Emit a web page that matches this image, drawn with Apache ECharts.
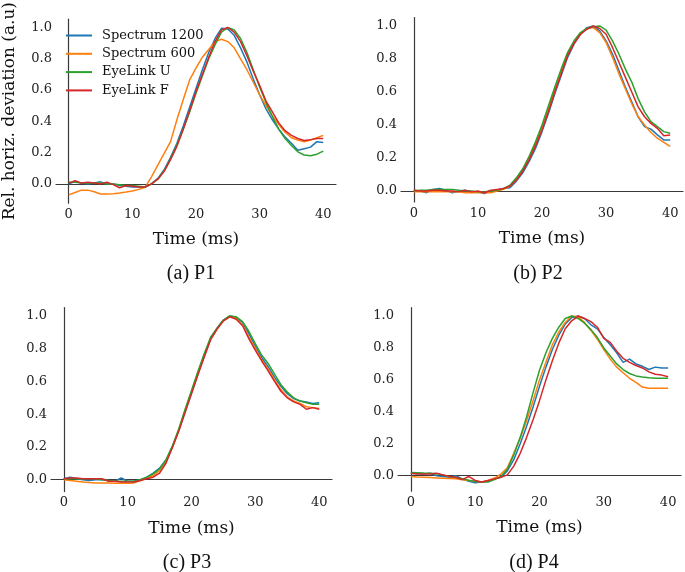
<!DOCTYPE html>
<html>
<head>
<meta charset="utf-8">
<script src="https://cdn.jsdelivr.net/npm/echarts@6/dist/echarts.min.js"></script>
<style>html,body{margin:0;padding:0;background:#fff}#c{width:685px;height:572px}</style>
</head>
<body>
<div id="c"></div>
<script>
// time axis (ms)
var time = [0,1,2,3,4,5,6,7,8,9,10,11,12,13,14,15,16,17,18,19,20,21,22,23,24,25,26,27,28,29,30,31,32,33,34,35,36,37,38,39,40];
var seriesNames = ['Spectrum 1200','Spectrum 600','EyeLink U','EyeLink F'];
var xTicks = [0,10,20,30,40];
var yTicks = [0,0.2,0.4,0.6,0.8,1.0];
var captions = ['(a) P1','(b) P2','(c) P3','(d) P4'];

// P1
var p1_spec1200 = [0.0,0.015,0.005,0.0,0.005,0.013,0.0,0.0,-0.01,-0.015,-0.02,-0.02,-0.02,0.0,0.035,0.09,0.17,0.26,0.37,0.49,0.61,0.73,0.84,0.93,0.995,0.99,0.95,0.87,0.78,0.67,0.57,0.48,0.41,0.35,0.30,0.26,0.215,0.225,0.235,0.27,0.265];
var p1_spec600 = [-0.07,-0.055,-0.04,-0.04,-0.05,-0.065,-0.065,-0.063,-0.058,-0.052,-0.045,-0.035,-0.022,0.045,0.12,0.195,0.27,0.41,0.54,0.665,0.74,0.81,0.86,0.91,0.925,0.91,0.87,0.80,0.73,0.65,0.57,0.50,0.435,0.38,0.33,0.295,0.28,0.27,0.28,0.295,0.31];
var p1_eyeU = [0.01,0.01,0.005,0.005,0.005,0.005,0.0,0.0,-0.005,-0.01,-0.01,-0.015,-0.02,0.0,0.03,0.085,0.16,0.25,0.35,0.46,0.58,0.69,0.80,0.89,0.97,1.0,0.985,0.93,0.84,0.73,0.62,0.52,0.43,0.35,0.29,0.245,0.205,0.185,0.18,0.19,0.21];
var p1_eyeF = [0.005,0.02,0.005,0.01,0.005,0.0,0.01,-0.005,-0.025,-0.01,-0.015,-0.02,-0.02,0.0,0.03,0.08,0.155,0.24,0.35,0.47,0.59,0.70,0.81,0.91,0.985,1.0,0.97,0.91,0.82,0.72,0.63,0.53,0.46,0.39,0.34,0.31,0.29,0.278,0.283,0.29,0.29];

// P2
var p2_spec1200 = [0.005,0.0,-0.01,0.01,0.015,0.005,-0.01,0.0,0.005,-0.005,-0.005,-0.015,0.0,0.005,0.015,0.02,0.06,0.11,0.18,0.26,0.36,0.47,0.59,0.70,0.81,0.89,0.95,0.99,1.0,0.97,0.91,0.83,0.73,0.63,0.54,0.45,0.39,0.375,0.34,0.31,0.31];
var p2_spec600 = [-0.005,-0.005,-0.005,-0.005,-0.005,-0.005,-0.005,-0.005,-0.01,-0.01,-0.01,-0.01,-0.01,0.0,0.01,0.03,0.075,0.13,0.205,0.29,0.39,0.50,0.62,0.73,0.83,0.90,0.95,0.985,0.99,0.96,0.90,0.81,0.71,0.62,0.53,0.45,0.40,0.355,0.32,0.295,0.27];
var p2_eyeU = [0.0,0.005,0.005,0.01,0.01,0.01,0.01,0.005,0.0,0.0,-0.005,-0.005,0.0,0.005,0.015,0.035,0.08,0.135,0.21,0.30,0.40,0.515,0.63,0.74,0.84,0.91,0.96,0.985,0.995,1.0,0.975,0.91,0.83,0.74,0.66,0.56,0.48,0.42,0.39,0.36,0.35];
var p2_eyeF = [0.005,0.0,0.0,0.005,0.005,0.0,0.0,-0.005,0.005,-0.005,0.0,-0.01,0.005,0.01,0.015,0.03,0.065,0.12,0.19,0.275,0.37,0.48,0.60,0.71,0.82,0.895,0.95,0.98,1.0,0.985,0.95,0.87,0.78,0.69,0.60,0.51,0.45,0.41,0.38,0.335,0.34];

// P3
var p3_spec1200 = [0.005,0.015,0.005,0.0,-0.005,0.0,0.0,-0.005,-0.01,0.01,-0.01,-0.01,0.0,0.015,0.04,0.07,0.12,0.20,0.30,0.42,0.53,0.645,0.755,0.865,0.925,0.975,1.0,0.99,0.96,0.89,0.815,0.745,0.69,0.625,0.57,0.525,0.495,0.48,0.475,0.465,0.47];
var p3_spec600 = [0.0,-0.005,-0.01,-0.015,-0.018,-0.02,-0.02,-0.02,-0.022,-0.022,-0.022,-0.02,-0.005,0.01,0.025,0.055,0.11,0.20,0.30,0.42,0.535,0.65,0.76,0.86,0.92,0.97,1.0,0.985,0.945,0.87,0.80,0.73,0.675,0.61,0.55,0.505,0.48,0.465,0.445,0.44,0.435];
var p3_eyeU = [0.005,0.005,0.005,0.005,0.005,0.005,0.0,-0.005,-0.01,-0.01,-0.01,-0.01,0.0,0.015,0.035,0.065,0.12,0.205,0.31,0.43,0.545,0.66,0.77,0.87,0.925,0.975,1.0,0.995,0.965,0.905,0.83,0.76,0.71,0.645,0.58,0.535,0.5,0.48,0.47,0.46,0.46];
var p3_eyeF = [0.005,0.01,0.01,0.005,0.005,0.005,0.005,-0.01,-0.01,-0.015,-0.015,-0.015,-0.005,0.005,0.015,0.04,0.10,0.195,0.295,0.41,0.525,0.64,0.75,0.855,0.92,0.97,0.995,0.98,0.94,0.86,0.79,0.725,0.665,0.60,0.54,0.50,0.475,0.46,0.43,0.44,0.43];

// P4
var p4_spec1200 = [0.015,0.012,0.01,0.015,0.0,-0.005,-0.01,0.0,-0.02,-0.035,-0.045,-0.04,-0.035,-0.02,-0.01,0.03,0.10,0.20,0.31,0.43,0.56,0.68,0.79,0.88,0.95,0.99,1.0,0.985,0.945,0.92,0.865,0.82,0.77,0.71,0.73,0.70,0.685,0.665,0.68,0.675,0.675];
var p4_spec600 = [-0.005,-0.008,-0.01,-0.012,-0.014,-0.016,-0.018,-0.02,-0.025,-0.03,-0.035,-0.04,-0.03,-0.015,0.01,0.05,0.14,0.235,0.345,0.47,0.60,0.71,0.82,0.90,0.96,1.0,0.995,0.96,0.91,0.855,0.79,0.73,0.68,0.645,0.61,0.585,0.555,0.547,0.547,0.547,0.547];
var p4_eyeU = [0.02,0.018,0.016,0.015,0.012,0.005,-0.005,-0.012,-0.02,-0.028,-0.035,-0.04,-0.04,-0.025,-0.005,0.04,0.13,0.24,0.37,0.52,0.66,0.77,0.86,0.93,0.985,1.0,0.985,0.955,0.915,0.865,0.80,0.75,0.70,0.665,0.64,0.625,0.618,0.613,0.61,0.61,0.61];
var p4_eyeF = [0.015,0.01,0.01,0.01,0.015,0.005,-0.005,-0.01,-0.025,-0.005,-0.03,-0.04,-0.03,-0.02,-0.01,0.005,0.06,0.14,0.24,0.35,0.47,0.60,0.72,0.83,0.92,0.97,1.0,0.985,0.965,0.93,0.86,0.835,0.78,0.735,0.71,0.69,0.675,0.65,0.635,0.63,0.62];

var panels = [
  [p1_spec1200, p1_spec600, p1_eyeU, p1_eyeF],
  [p2_spec1200, p2_spec600, p2_eyeU, p2_eyeF],
  [p3_spec1200, p3_spec600, p3_eyeU, p3_eyeF],
  [p4_spec1200, p4_spec600, p4_eyeU, p4_eyeF]
];

var colors = ['#1f77b4','#ff7f0e','#2ca02c','#d62728'];
var grids = [
  {left:54, top:17.6, width:282, height:185.6},
  {left:401, top:17.6, width:282, height:184.3},
  {left:51, top:307.6, width:281, height:184},
  {left:398, top:307.7, width:283, height:183.5}
];
var capPos = [[191,273.5],[538,273.5],[187,563],[534,563]];
var FONT = 'DejaVu Serif';
var axisLineStyle = {color:'#3a3a3a', width:1.2};

var xAxes = [], yAxes = [], series = [], graphics = [];
panels.forEach(function(p, i){
  var all = [].concat.apply([], p);
  var lo = Math.min.apply(null, all), hi = Math.max.apply(null, all);
  var m = (hi - lo) * 0.05;
  xAxes.push({
    gridIndex:i, type:'value', min:-2, max:42,
    name:'Time (ms)', nameLocation:'middle', nameGap:28,
    nameTextStyle:{fontFamily:FONT, fontSize:17, color:'#111'},
    axisLine:{show:true, lineStyle:axisLineStyle},
    axisTick:{show:false},
    splitLine:{show:false},
    axisLabel:{customValues:xTicks, margin:5, fontFamily:FONT, fontSize:13, color:'#222'}
  });
  yAxes.push({
    gridIndex:i, type:'value', min:lo - m, max:hi + m,
    name: i === 0 ? 'Rel. horiz. deviation (a.u)' : '',
    nameLocation:'middle', nameRotate:90, nameGap:38,
    nameTextStyle:{fontFamily:FONT, fontSize:17, color:'#111'},
    axisLine:{show:true, lineStyle:axisLineStyle},
    axisTick:{show:false},
    splitLine:{show:false},
    axisLabel:{customValues:yTicks, margin:4, fontFamily:FONT, fontSize:13, color:'#222',
      formatter:function(v){return v.toFixed(1);}}
  });
  p.forEach(function(vals, k){
    series.push({
      name: seriesNames[k], type:'line', xAxisIndex:i, yAxisIndex:i,
      symbol:'none', showSymbol:false, smooth:false,
      lineStyle:{width:1.5, color:colors[k]}, itemStyle:{color:colors[k]},
      data: time.map(function(t, j){ return [t, vals[j]]; }),
      z: 2 + k
    });
  });
  graphics.push({
    type:'text', x:capPos[i][0], y:capPos[i][1],
    style:{text:captions[i], align:'center', verticalAlign:'middle',
      font:'20px "Liberation Serif"', fill:'#111'}
  });
});

var chart = echarts.init(document.getElementById('c'), null, {renderer:'canvas'});
chart.setOption({
  animation:false,
  backgroundColor:'#fff',
  grid: grids,
  xAxis: xAxes,
  yAxis: yAxes,
  series: series,
  legend:{
    data: seriesNames, orient:'vertical', left:66, top:29, padding:0,
    icon:'rect', itemWidth:26, itemHeight:2, itemGap:5.3,
    textStyle:{fontFamily:FONT, fontSize:13, color:'#111', padding:[0,0,0,5]}
  },
  graphic: graphics
});
</script>
</body>
</html>
